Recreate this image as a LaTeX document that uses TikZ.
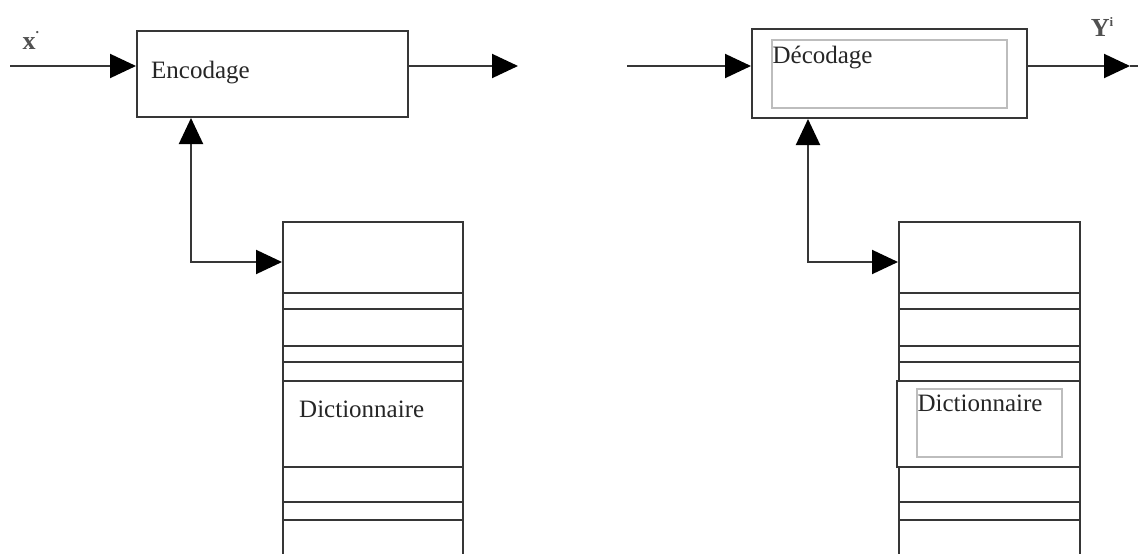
\documentclass[tikz,border=0pt]{standalone}
\usepackage{fontspec}
\setmainfont{Liberation Serif}
\usepackage{xcolor}
\usetikzlibrary{arrows.meta, positioning}

\definecolor{inkgray}{HTML}{363636}
\definecolor{textgray}{HTML}{262626}
\definecolor{framegray}{HTML}{BDBDBD}

\begin{document}
\begin{tikzpicture}[x=1pt, y=-1pt,
    % Styles
    block/.style={
        rectangle,
        draw=inkgray,
        line width=2pt,
        fill=white,
        inner sep=0pt
    },
    innerframe/.style={
        rectangle,
        draw=framegray,
        line width=1.2pt,
        inner sep=0pt
    },
    lbl/.style={
        font=\fontsize{25}{30}\selectfont,
        text=textgray,
        inner sep=1pt
    },
    sig/.style={
        font=\fontsize{26}{30}\selectfont\bfseries,
        text=textgray!80,
        inner sep=0pt
    },
    wire/.style={
        draw=inkgray,
        line width=2pt
    },
    arr/.style={wire, -{Triangle[length=26pt, width=24pt, color=black]}},
    biarr/.style={wire, {Triangle[length=26pt, width=24pt, color=black]}-{Triangle[length=26pt, width=24pt, color=black]}}
]
\clip (0,0) rectangle (1138,554);

% ENCODAGE side
\node[block, minimum width=271pt, minimum height=86pt] (enc) at (272.5,74) {};
\node[lbl, anchor=west] (enclbl) at (150,73) {Encodage};

\node[block, minimum width=180pt, minimum height=380pt] (dictl) at (373,412) {};
\foreach \y in {293,309,346,362,381,467,502,520}
    \draw[wire] (dictl.west |- 0,\y) -- (dictl.east |- 0,\y);
\node[lbl, anchor=west] (dictllbl) at (298,409) {Dictionnaire};

% signals left
\coordinate (xin) at (10,66);
\coordinate (encout) at (518,66);
\node[sig] (xlbl) at (31,40) {x\raisebox{16pt}{\fontsize{14}{14}\selectfont.}};
\draw[arr] (xin) -- (xin -| enc.west);
\draw[arr] (encout -| enc.east) -- (encout);

\coordinate (lbend) at (191,262);
\draw[biarr] (lbend |- enc.south) -- (lbend) -- (lbend -| dictl.west);

% DECODAGE side
\node[block, minimum width=275pt, minimum height=89pt] (dec) at (889.5,73.5) {};
\node[innerframe, minimum width=235pt, minimum height=68pt] (decin) at (889.5,74) {};
\node[lbl, anchor=north west] (declbl) at ([yshift=-6pt]decin.north west) {Décodage};

\node[block, minimum width=181pt, minimum height=380pt] (dictr) at (989.5,412) {};
\foreach \y in {293,309,346,362,381,467,502,520}
    \draw[wire] (dictr.west |- 0,\y) -- (dictr.east |- 0,\y);
\node[block, minimum width=183pt, minimum height=86pt] (dictrmid) at (988.5,424) {};
\node[innerframe, minimum width=145pt, minimum height=68pt] (dictrin) at (989.5,423) {};
\node[lbl, anchor=north west] (dictrlbl) at ([yshift=-5pt]dictrin.north west) {Dictionnaire};

% signals right
\coordinate (decin0) at (627,66);
\coordinate (decout) at (1130,66);
\node[sig] (ylbl) at (1102,27) {Y\raisebox{10pt}{\fontsize{13}{13}\selectfont i}};
\draw[arr] (decin0) -- (decin0 -| dec.west);
\draw[arr] (decout -| dec.east) -- (decout);
\draw[wire] (decout) -- ++(10,0);

\coordinate (rbend) at (808,262);
\draw[biarr] (rbend |- dec.south) -- (rbend) -- (rbend -| dictr.west);

\end{tikzpicture}
\end{document}
